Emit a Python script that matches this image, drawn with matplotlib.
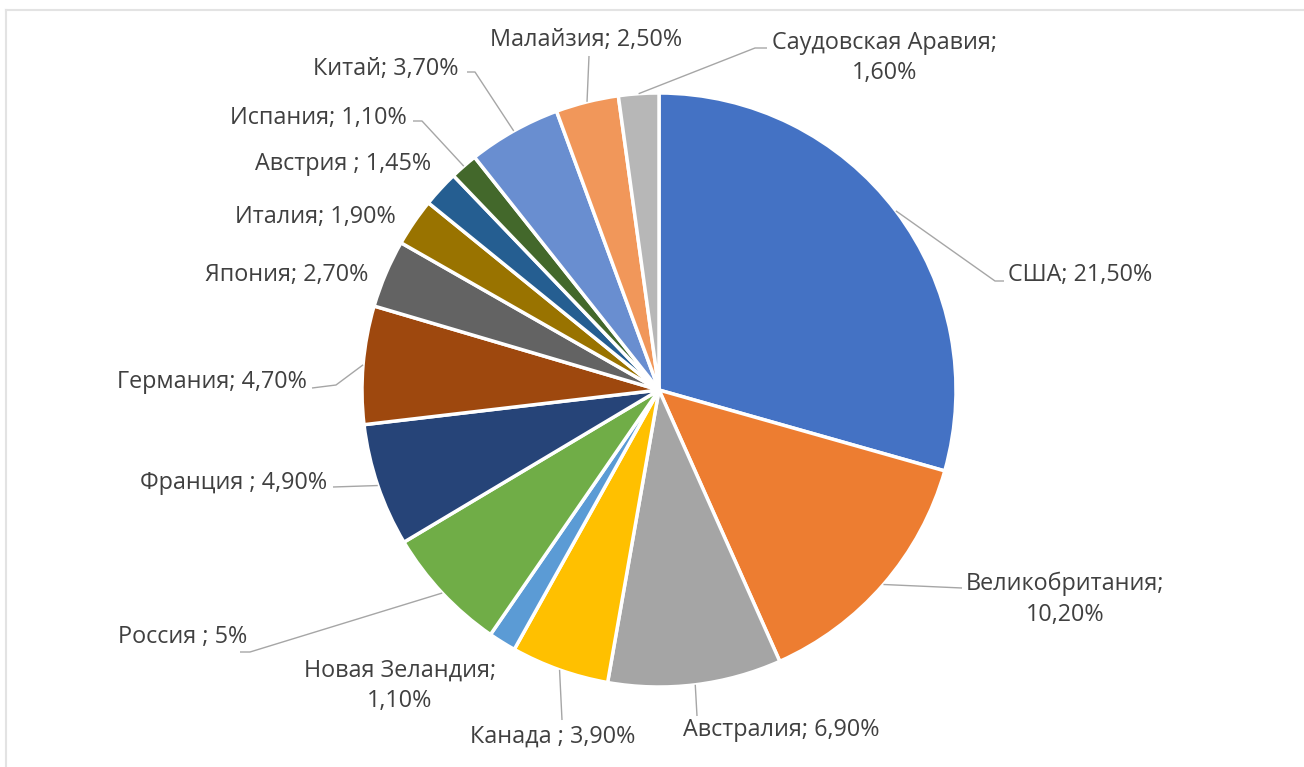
import numpy as np
import matplotlib
matplotlib.use("Agg")
import matplotlib.pyplot as plt

# Export share by country, clockwise from 12 o'clock
countries = ["США", "Великобритания", "Австралия", "Канада", "Новая Зеландия",
             "Россия", "Франция", "Германия", "Япония", "Италия", "Австрия",
             "Испания", "Китай", "Малайзия", "Саудовская Аравия"]
shares = [21.5, 10.2, 6.9, 3.9, 1.1, 5.0, 4.9, 4.7, 2.7, 1.9, 1.45, 1.1, 3.7, 2.5, 1.6]
labels = ["США; 21,50%", "Великобритания;\n10,20%", "Австралия; 6,90%",
          "Канада ; 3,90%", "Новая Зеландия;\n1,10%", "Россия ; 5%",
          "Франция ; 4,90%", "Германия; 4,70%", "Япония; 2,70%",
          "Италия; 1,90%", "Австрия ; 1,45%", "Испания; 1,10%",
          "Китай; 3,70%", "Малайзия; 2,50%", "Саудовская Аравия;\n1,60%"]

colors = ["#4472C4", "#ED7D31", "#A5A5A5", "#FFC000", "#5B9BD5", "#70AD47",
          "#264478", "#9E480E", "#636363", "#997300", "#255E91", "#43682B",
          "#698ED0", "#F1975A", "#B7B7B7"]

# Label placement in pixel space: text anchor (x, y, ha) and leader-line path
# (points after the slice-edge point; None = no leader line)
label_layout = [
    (1008, 275, "left", [(995, 281), (1004, 281)]),
    (1065, 599, "center", [(962, 588)]),
    (683, 730, "left", [(697, 716)]),
    (470, 737, "left", [(562, 720)]),
    (400, 686, "center", None),
    (118, 637, "left", [(250, 652), (240, 652)]),
    (140, 483, "left", [(333, 487)]),
    (117, 382, "left", [(336, 385), (312, 388)]),
    (205, 275, "left", None),
    (235, 217, "left", None),
    (255, 164, "left", None),
    (230, 118, "left", [(422, 121), (413, 121)]),
    (313, 69, "left", [(475, 72), (467, 72)]),
    (490, 40, "left", [(589, 56)]),
    (885, 58, "center", [(755, 48), (767, 48)]),
]

W, H = 1304, 767
cx, cy, R = 659, 390, 297
text_color = "#404040"
line_color = "#A6A6A6"

fig = plt.figure(figsize=(W / 100, H / 100), dpi=100)
ax = fig.add_axes([0, 0, 1, 1])

# Pie in a y-down pixel frame: counterclockwise from -90 becomes clockwise
# from 12 o'clock once the y axis is inverted
wedges, _ = ax.pie(shares, colors=colors, startangle=-90, counterclock=True,
                   center=(cx, cy), radius=R, frame=True,
                   wedgeprops=dict(edgecolor="white", linewidth=2.5))
ax.set_xlim(0, W)
ax.set_ylim(H, 0)
ax.set_aspect("equal")
ax.axis("off")

total = sum(shares)
start = 90.0
for val, lab, (tx, ty, ha, path) in zip(shares, labels, label_layout):
    span = val / total * 360.0
    mid = np.deg2rad(start - span / 2)
    start -= span
    ex, ey = cx + R * np.cos(mid), cy - R * np.sin(mid)
    if path is not None:
        xs = [ex] + [p[0] for p in path]
        ys = [ey] + [p[1] for p in path]
        ax.plot(xs, ys, color=line_color, lw=1.0, solid_capstyle="butt")
    ax.text(tx, ty, lab, ha=ha, va="center", fontsize=16.8, color=text_color,
            family=["Open Sans", "DejaVu Sans"], linespacing=1.38)

# Thin frame lines along the top and left edges
ax.plot([6, W], [10, 10], color="#E3E3E3", lw=1.5)
ax.plot([6, 6], [10, H], color="#E3E3E3", lw=1.5)

fig.savefig("out.png", dpi=100, facecolor="white")
